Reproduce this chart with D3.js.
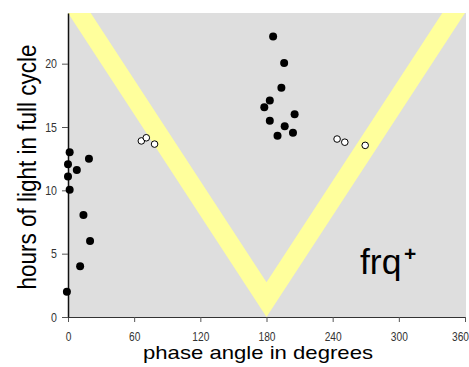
<!DOCTYPE html>
<html>
<head>
<meta charset="utf-8">
<script src="https://cdn.jsdelivr.net/npm/d3@7"></script>
<style>
  html, body { margin: 0; padding: 0; background: #ffffff; }
  svg { display: block; }
  text { font-family: "Liberation Sans", Arial, sans-serif; }
</style>
</head>
<body>
<svg id="chart" width="469" height="367"></svg>
<script>
// ---- data ----
const xTicks = [0, 60, 120, 180, 240, 300, 360];
const yTicks = [0, 5, 10, 15, 20];

// filled points (phase angle in degrees, hours of light)
const filledPhase = [1.5, 0, 8, 0, 1.5, 19, 14, 20, 11, -1,
                     186, 196, 193.5, 183, 178, 205.5, 183, 196.5, 204, 190];
const filledHours = [13.0, 12.05, 11.6, 11.1, 10.05, 12.5, 8.05, 6.0, 4.0, 2.0,
                     22.15, 20.05, 18.1, 17.1, 16.55, 16.0, 15.5, 15.05, 14.55, 14.3];

// open points
const openPhase = [66.5, 71, 78.5, 244, 251, 269.5];
const openHours = [13.9, 14.15, 13.65, 14.05, 13.8, 13.55];

// yellow V band (outer V then inner V, degrees / hours)
const bandPhase = [0, 180, 360, 339.4, 180, 20.6];
const bandHours = [24, 0, 24, 24, 2.75, 24];

const xLabel = "phase angle in degrees";
const yLabel = "hours of light in full cycle";
const tagMain = "frq";
const tagSup = "+";

// ---- layout ----
const svg = d3.select("#chart");
const pL = 68, pR = 465, pT = 13, pB = 317;

const x = d3.scaleLinear().domain([0, 360]).range([pL, pR]);
const y = d3.scaleLinear().domain([0, 24]).range([pB, pT]);

// background
svg.append("rect")
  .attr("x", pL).attr("y", pT)
  .attr("width", pR - pL + 1).attr("height", pB - pT)
  .attr("fill", "#dedede");

svg.append("clipPath").attr("id", "plotclip")
  .append("rect").attr("x", pL).attr("y", pT)
  .attr("width", pR - pL + 1).attr("height", pB - pT);

// band
const bandPts = bandPhase.map((p, i) => [x(p), y(bandHours[i])]);
svg.append("path")
  .attr("clip-path", "url(#plotclip)")
  .attr("d", "M" + bandPts.map(d => d.join(",")).join("L") + "Z")
  .attr("fill", "#ffff9c");

// axes
const tickScale = 0.85;
const gx = svg.append("g")
  .attr("transform", `translate(0,${pB})`)
  .call(d3.axisBottom(x).tickValues(xTicks).tickFormat(d3.format("d"))
        .tickSize(5).tickSizeOuter(0).tickPadding(10));
gx.selectAll("text")
  .attr("font-size", 12)
  .attr("font-family", "'Liberation Sans', Arial, sans-serif")
  .attr("fill", "#333")
  .attr("x", d => d === 360 ? -5 / tickScale : 0)
  .attr("transform", `scale(${tickScale},1)`);

const gy = svg.append("g")
  .attr("transform", `translate(${pL},0)`)
  .call(d3.axisLeft(y).tickValues(yTicks).tickFormat(d3.format("d"))
        .tickSize(6).tickSizeOuter(0).tickPadding(5));
gy.selectAll("text")
  .attr("font-size", 12.5)
  .attr("font-family", "'Liberation Sans', Arial, sans-serif")
  .attr("fill", "#333")
  .attr("x", -11 / tickScale)
  .attr("transform", `scale(${tickScale},1)`);

gx.select(".domain").attr("stroke", "#333").attr("stroke-width", 1.2);
gx.selectAll(".tick line").attr("stroke", "#555");
gy.select(".domain").attr("stroke", "#111").attr("stroke-width", 1.5);
gy.selectAll(".tick line").attr("stroke", "#555");

// points
const filled = filledPhase.map((p, i) => ({p, h: filledHours[i]}));
const open = openPhase.map((p, i) => ({p, h: openHours[i]}));

svg.append("g").selectAll("circle").data(filled).join("circle")
  .attr("cx", d => x(d.p)).attr("cy", d => y(d.h))
  .attr("r", 4).attr("fill", "#000");

svg.append("g").selectAll("circle").data(open).join("circle")
  .attr("cx", d => x(d.p)).attr("cy", d => y(d.h))
  .attr("r", 3.3).attr("fill", "#fff").attr("stroke", "#000").attr("stroke-width", 1);

// axis titles
svg.append("text")
  .attr("x", 258).attr("y", 359)
  .attr("text-anchor", "middle")
  .attr("font-size", 19)
  .attr("textLength", 230).attr("lengthAdjust", "spacingAndGlyphs")
  .attr("fill", "#000")
  .text(xLabel);

svg.append("text")
  .attr("transform", `translate(36,167) rotate(-90)`)
  .attr("text-anchor", "middle")
  .attr("font-size", 25)
  .attr("textLength", 245).attr("lengthAdjust", "spacingAndGlyphs")
  .attr("fill", "#000")
  .text(yLabel);

// frq+ tag
const tag = svg.append("text")
  .attr("x", 360).attr("y", 274)
  .attr("font-size", 35.5)
  .attr("fill", "#000");
tag.append("tspan").text(tagMain);
tag.append("tspan")
  .attr("x", 404).attr("y", 261)
  .attr("font-size", 21).attr("font-weight", "bold")
  .text(tagSup);
</script>
</body>
</html>
